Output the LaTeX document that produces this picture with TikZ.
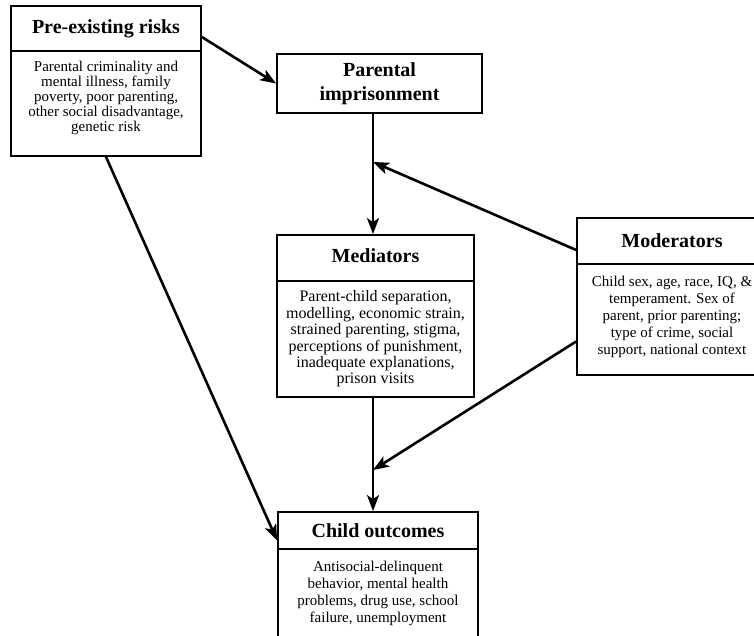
\documentclass[tikz,border=0pt]{standalone}
\usepackage{fontspec}
\setmainfont{Liberation Serif}
\usetikzlibrary{arrows.meta}
\begin{document}
\begin{tikzpicture}[x=1pt,y=-1pt,
  box/.style={draw, line width=1.8pt, inner sep=0pt, align=center},
  ttl/.style={box, font=\bfseries\fontsize{20}{24}\selectfont},
  txt/.style={inner sep=0pt, align=center},
  arr/.style={line width=2.6pt, -{Stealth[length=16pt,width=12pt,inset=4pt]}}]
\useasboundingbox (0,0) rectangle (754,636);
\begin{scope}
\clip (0,0) rectangle (754,636);
% Pre-existing risks
\node[ttl, minimum width=190pt, minimum height=45pt] (pretitle) at (106,28.5) {Pre-existing risks};
\node[box, minimum width=190pt, minimum height=105pt] (prebody) at (106,103.5) {};
\node[txt, font=\fontsize{15}{15}\selectfont] (pretext) at (106,98) {Parental criminality and\\mental illness, family\\poverty, poor parenting,\\other social disadvantage,\\genetic risk};
% Parental imprisonment
\node[ttl, minimum width=205pt, minimum height=59pt] (parental) at (379.5,83.5) {Parental\\imprisonment};
% Mediators
\node[ttl, minimum width=197pt, minimum height=46pt, text depth=4pt] (medtitle) at (375.5,258) {Mediators};
\node[box, minimum width=197pt, minimum height=116pt] (medbody) at (375.5,339) {};
\node[txt, font=\fontsize{16}{16.4}\selectfont] (medtext) at (375.5,339) {Parent-child separation,\\modelling, economic strain,\\strained parenting, stigma,\\perceptions of punishment,\\inadequate explanations,\\prison visits};
% Moderators
\node[ttl, minimum width=190pt, minimum height=46pt] (modtitle) at (672,241) {Moderators};
\node[box, minimum width=190pt, minimum height=111pt] (modbody) at (672,319.5) {};
\node[txt, font=\fontsize{15}{17}\selectfont] (modtext) at (672,316.5) {Child sex, age, race, IQ, \&\\temperament. Sex of\\parent, prior parenting;\\type of crime, social\\support, national context};
% Child outcomes
\node[ttl, minimum width=200pt, minimum height=37pt] (childtitle) at (378,530.5) {Child outcomes};
\node[box, minimum width=200pt, minimum height=102pt] (childbody) at (378,600) {};
\node[txt, font=\fontsize{15}{17}\selectfont] (childtext) at (378,593) {Antisocial-delinquent\\behavior, mental health\\problems, drug use, school\\failure, unemployment};
\end{scope}
% junctions
\coordinate (j1) at (373,162);
\coordinate (j2) at (373,470);
% connectors
\draw[arr] ([yshift=-8.5pt]pretitle.east) -- (parental.west);
\draw[arr] ([xshift=-6.5pt]parental.south) -- ([xshift=-2.5pt]medtitle.north);
\draw[arr] ([yshift=-9pt]modtitle.west) -- (j1);
\draw[arr] ([xshift=-2.5pt]medbody.south) -- ([xshift=-5pt]childtitle.north);
\draw[arr] ([yshift=-22pt]modbody.west) -- (j2);
\draw[arr] (prebody.south) -- ([yshift=-10pt]childtitle.west);
\end{tikzpicture}
\end{document}
